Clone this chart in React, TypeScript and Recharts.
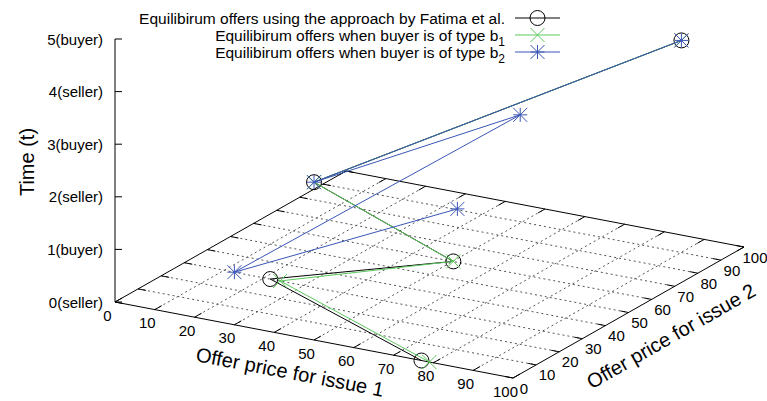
import React from 'react';
import { ScatterChart, Scatter, XAxis, YAxis, ReferenceLine, ReferenceDot } from 'recharts';

// offers per time step: issue 1 price, issue 2 price, time
const timeSteps = [0, 1, 2, 3, 4];
const fatimaIssue1 = [77, 39, 85, 50, 89.5];
const fatimaIssue2 = [0, 0, 0, 0, 91];
const b1Issue1 = [79, 41.5, 85, 50, 89.5];
const b1Issue2 = [0, 0, 0, 0, 91];
const b2Issue1 = [33.5, 30, 49, 50, 89.5];
const b2Issue2 = [90.5, 0, 91, 0, 91];

const priceTicks = [0, 10, 20, 30, 40, 50, 60, 70, 80, 90, 100];
const timeTicks = [0, 1, 2, 3, 4, 5];
const timeLabels = ['0(seller)', '1(buyer)', '2(seller)', '3(buyer)', '4(seller)', '5(buyer)'];

const W = 767;
const H = 401;
const FONT = 'Liberation Sans, Arial, Helvetica, sans-serif';
const GREEN = '#5cc85c';
const BLUE = '#3a56b5';

// gnuplot style view: issue1 runs right/down, issue2 runs right/up, time runs straight up
const proj = (p1: number, p2: number, t: number) => ({
  x: 115 + 3.98 * p1 + 2.31 * p2,
  y: 302 + 0.76 * p1 - 1.31 * p2 - 52.6 * t,
});

const toPoints = (a: number[], b: number[]) => a.map((v, i) => proj(v, b[i], timeSteps[i]));

const fatimaPts = toPoints(fatimaIssue1, fatimaIssue2);
const b1Pts = toPoints(b1Issue1, b1Issue2);
const b2Pts = toPoints(b2Issue1, b2Issue2);

const CircleMark = (p: any) => (
  <circle cx={p.cx} cy={p.cy} r={7.5} fill="none" stroke="#000" strokeWidth={1} />
);
const CrossMark = (p: any) => {
  const s = 7;
  return (
    <path
      d={`M${p.cx - s},${p.cy - s}L${p.cx + s},${p.cy + s}M${p.cx - s},${p.cy + s}L${p.cx + s},${p.cy - s}`}
      stroke={GREEN}
      strokeWidth={1}
      fill="none"
    />
  );
};
const StarMark = (p: any) => {
  const s = 7;
  const { cx, cy } = p;
  return (
    <path
      d={`M${cx - s},${cy}L${cx + s},${cy}M${cx},${cy - s}L${cx},${cy + s}M${cx - s},${cy - s}L${cx + s},${cy + s}M${cx - s},${cy + s}L${cx + s},${cy - s}`}
      stroke={BLUE}
      strokeWidth={1}
      fill="none"
    />
  );
};

const seg = (a: { x: number; y: number }, b: { x: number; y: number }) => [
  { x: a.x, y: a.y },
  { x: b.x, y: b.y },
];

const textShape =
  (label: React.ReactNode, opts: { anchor?: string; size?: number; angle?: number; dx?: number; dy?: number }) =>
  (p: any) => {
    const x = p.cx + (opts.dx || 0);
    const y = p.cy + (opts.dy || 0);
    return (
      <text
        x={x}
        y={y}
        textAnchor={opts.anchor || 'middle'}
        dominantBaseline="central"
        fontFamily={FONT}
        fontSize={opts.size || 15}
        fill="#000"
        transform={opts.angle ? `rotate(${opts.angle} ${x} ${y})` : undefined}
      >
        {label}
      </text>
    );
  };

const legendRows = [
  { y: 18, color: '#000', mark: CircleMark, text: <>Equilibirum offers using the approach by Fatima et al.</> },
  {
    y: 35,
    color: GREEN,
    mark: CrossMark,
    text: (
      <>
        Equilibirum offers when buyer is of type b<tspan fontSize={12} dy={5}>1</tspan>
      </>
    ),
  },
  {
    y: 52,
    color: BLUE,
    mark: StarMark,
    text: (
      <>
        Equilibirum offers when buyer is of type b<tspan fontSize={12} dy={5}>2</tspan>
      </>
    ),
  },
];

export default function App() {
  const gridLines: React.ReactNode[] = [];
  priceTicks.slice(1, -1).forEach((k) => {
    gridLines.push(
      <ReferenceLine key={`g1-${k}`} segment={seg(proj(k, 0, 0), proj(k, 100, 0))} stroke="#555" strokeDasharray="2 3" />,
      <ReferenceLine key={`g2-${k}`} segment={seg(proj(0, k, 0), proj(100, k, 0))} stroke="#555" strokeDasharray="2 3" />
    );
  });

  const ticks: React.ReactNode[] = [];
  priceTicks.forEach((k) => {
    ticks.push(
      <ReferenceLine key={`t1f-${k}`} segment={seg(proj(k, 0, 0), proj(k, 3, 0))} stroke="#000" />,
      <ReferenceLine key={`t1b-${k}`} segment={seg(proj(k, 100, 0), proj(k, 97, 0))} stroke="#000" />,
      <ReferenceLine key={`t2l-${k}`} segment={seg(proj(0, k, 0), proj(2, k, 0))} stroke="#000" />,
      <ReferenceLine key={`t2r-${k}`} segment={seg(proj(100, k, 0), proj(98, k, 0))} stroke="#000" />
    );
  });
  timeTicks.forEach((t) => {
    const p = proj(0, 0, t);
    ticks.push(<ReferenceLine key={`tz-${t}`} segment={[{ x: p.x, y: p.y }, { x: p.x + 7, y: p.y }]} stroke="#000" />);
  });

  const corners = [proj(0, 0, 0), proj(100, 0, 0), proj(100, 100, 0), proj(0, 100, 0)];

  return (
    <div style={{ position: 'absolute', left: 0, top: 0, background: '#fff' }}>
      <ScatterChart width={W} height={H} margin={{ top: 0, right: 0, bottom: 0, left: 0 }}>
        <XAxis hide type="number" dataKey="x" domain={[0, W]} allowDataOverflow />
        <YAxis hide type="number" dataKey="y" domain={[0, H]} reversed allowDataOverflow />

        {gridLines}
        {corners.map((c, i) => (
          <ReferenceLine key={`edge-${i}`} segment={seg(c, corners[(i + 1) % 4])} stroke="#000" />
        ))}
        <ReferenceLine segment={seg(proj(0, 0, 0), proj(0, 0, 5))} stroke="#000" />
        {ticks}

        {priceTicks.map((k) => {
          const p = proj(k, 0, 0);
          return <ReferenceDot key={`l1-${k}`} x={p.x} y={p.y} r={0} shape={textShape(String(k), { dx: -7.5, dy: 13 })} />;
        })}
        {priceTicks.map((k) => {
          const p = proj(100, k, 0);
          return <ReferenceDot key={`l2-${k}`} x={p.x} y={p.y} r={0} shape={textShape(String(k), { dx: 11, dy: 10 })} />;
        })}
        {timeTicks.map((t) => {
          const p = proj(0, 0, t);
          return (
            <ReferenceDot key={`lz-${t}`} x={p.x} y={p.y} r={0} shape={textShape(timeLabels[t], { anchor: 'end', dx: -12 })} />
          );
        })}

        <ReferenceDot x={27} y={162} r={0} shape={textShape('Time (t)', { size: 20, angle: -90 })} />
        <ReferenceDot x={290} y={372} r={0} shape={textShape('Offer price for issue 1', { size: 20, angle: 10.8 })} />
        <ReferenceDot x={671} y={336} r={0} shape={textShape('Offer price for issue 2', { size: 20, angle: -29.8 })} />

        {legendRows.map((row, i) => (
          <ReferenceLine key={`leg-l-${i}`} segment={[{ x: 515, y: row.y }, { x: 560, y: row.y }]} stroke={row.color} />
        ))}
        {legendRows.map((row, i) => (
          <ReferenceDot key={`leg-m-${i}`} x={537.5} y={row.y} r={0} shape={row.mark} />
        ))}
        {legendRows.map((row, i) => (
          <ReferenceDot
            key={`leg-t-${i}`}
            x={505}
            y={row.y}
            r={0}
            shape={(p: any) => (
              <text x={p.cx} y={p.cy + 5.5} textAnchor="end" fontFamily={FONT} fontSize={15.5} fill="#000">
                {row.text}
              </text>
            )}
          />
        ))}

        <Scatter data={fatimaPts} line={{ stroke: '#000', strokeWidth: 1 }} shape={CircleMark} isAnimationActive={false} />
        <Scatter data={b1Pts} line={{ stroke: GREEN, strokeWidth: 1 }} shape={CrossMark} isAnimationActive={false} />
        <Scatter data={b2Pts} line={{ stroke: BLUE, strokeWidth: 1 }} shape={StarMark} isAnimationActive={false} />
      </ScatterChart>
    </div>
  );
}
